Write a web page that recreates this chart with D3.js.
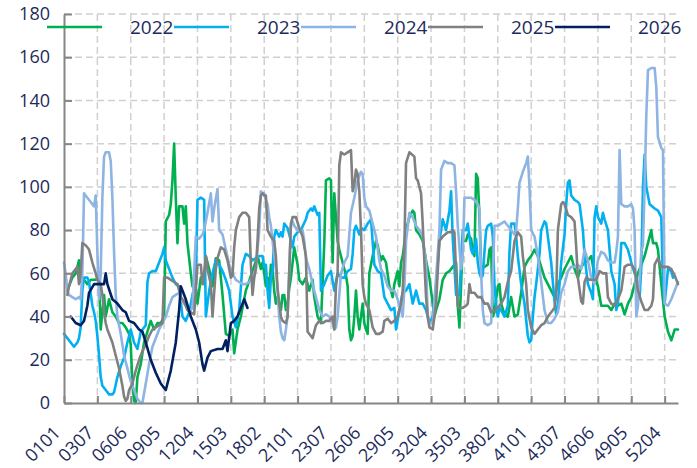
<!DOCTYPE html>
<html><head><meta charset="utf-8">
<script src="https://cdn.jsdelivr.net/npm/d3@7"></script>
<style>html,body{margin:0;padding:0;background:#fff}</style>
</head><body><svg id="c" width="697" height="468"></svg>
<script>
// Categories: week (01-53) + weekday (01-07) codes, 369 days shown
const weekNums = d3.range(1, 54);
const dayNums = d3.range(1, 8);
const categories = weekNums.flatMap(w => dayNums.map(d => String(w).padStart(2, "0") + String(d).padStart(2, "0"))).slice(0, 369);
const tickLabels = ["0101","0307","0606","0905","1204","1503","1802","2101","2307","2606","2905","3204","3503","3802","4101","4307","4606","4905","5204"];
const yTicks = [0,20,40,60,80,100,120,140,160,180];
const seriesNames = ["2022","2023","2024","2025","2026"];
const seriesColors = ["#00b050","#00b0f0","#8db4e2","#808080","#002060"];

// [day index into categories, value]
const s2022 = [[2,52],[5,58],[7,60],[9,66],[10,56],[12,57],[14,55],[16,57],[19,57],[21,58],[22,34],[24,50],[25,40],[27,48],[29,42],[31,40],[33,37],[35,37],[37,35],[39,32],[40,27],[41,9],[42,1],[43,0],[44,12],[46,18],[48,28],[50,33],[52,38],[54,34],[56,37],[58,37],[60,40],[61,84],[63,87],[64,92],[65,103],[66,120],[67,95],[68,74],[69,91],[71,91],[72,83],[73,91],[74,74],[76,60],[77,54],[79,53],[80,46],[82,58],[84,55],[85,68],[87,62],[89,54],[91,67],[93,66],[95,50],[97,32],[99,31],[101,34],[102,23],[104,34],[106,40],[109,52],[113,61],[116,68],[118,62],[119,65],[120,60],[121,54],[122,58],[123,52],[124,64],[125,62],[126,52],[127,46],[128,49],[130,43],[131,50],[132,50],[133,43],[134,46],[135,53],[136,58],[137,65],[138,72],[139,68],[140,64],[141,57],[143,55],[145,58],[147,52],[149,57],[150,49],[152,40],[154,37],[156,74],[157,103],[159,104],[160,103],[161,65],[162,97],[163,86],[164,75],[165,71],[167,65],[169,59],[170,54],[171,34],[172,29],[173,31],[174,40],[175,52],[176,40],[177,34],[179,46],[180,37],[181,34],[182,32],[183,60],[185,68],[187,75],[188,73],[189,69],[190,66],[191,68],[193,65],[195,54],[196,52],[197,49],[198,55],[200,61],[201,54],[202,65],[203,68],[205,80],[207,86],[209,89],[210,88],[211,80],[213,78],[215,75],[217,66],[219,58],[220,52],[221,46],[222,40],[223,43],[225,48],[227,57],[229,60],[231,61],[233,63],[235,65],[236,45],[237,35],[239,75],[241,75],[242,78],[244,76],[245,70],[246,68],[247,106],[248,104],[249,86],[250,63],[252,63],[254,64],[255,71],[256,72],[257,40],[258,42],[260,54],[261,55],[262,46],[264,41],[266,40],[268,49],[270,40],[272,41],[274,51],[276,63],[278,66],[280,68],[282,71],[284,68],[286,63],[288,58],[290,55],[292,52],[294,49],[296,55],[298,58],[300,62],[302,65],[304,68],[306,62],[308,58],[310,63],[312,65],[314,66],[316,68],[318,59],[320,54],[322,45],[324,45],[326,45],[328,43],[330,46],[332,45],[334,46],[336,41],[338,46],[340,49],[342,55],[344,60],[346,64],[348,68],[350,74],[352,80],[353,74],[355,74],[356,71],[358,55],[360,40],[362,33],[364,29],[366,34],[368,34]];
const s2023 = [[0,32],[2,30],[4,28],[6,26],[8,28],[9,30],[10,35],[11,52],[12,58],[14,58],[15,56],[17,45],[18,42],[19,38],[20,31],[21,22],[22,12],[23,8],[25,6],[27,4],[29,4],[30,5],[32,12],[34,17],[36,21],[38,28],[40,34],[42,28],[44,25],[46,33],[49,36],[50,56],[51,60],[53,61],[55,61],[57,65],[59,69],[60,72],[61,66],[63,62],[65,58],[67,55],[69,54],[71,40],[73,38],[75,42],[77,50],[79,56],[80,94],[82,95],[84,94],[85,40],[87,52],[89,60],[91,66],[93,64],[95,61],[97,57],[99,52],[101,40],[103,35],[105,43],[107,64],[109,69],[111,68],[113,66],[115,67],[117,68],[119,68],[120,63],[121,64],[122,52],[123,44],[124,58],[125,61],[126,77],[127,80],[129,77],[130,79],[131,77],[132,83],[134,81],[136,75],[137,72],[138,77],[140,79],[142,80],[145,85],[146,88],[148,90],[149,89],[150,91],[151,89],[152,87],[153,88],[154,52],[156,55],[158,59],[160,61],[162,52],[164,60],[166,58],[168,58],[170,61],[172,62],[173,69],[174,80],[175,82],[176,80],[177,78],[178,81],[180,80],[182,83],[184,85],[186,64],[188,61],[190,60],[192,49],[194,46],[196,43],[198,44],[199,34],[201,43],[203,51],[205,52],[207,55],[209,46],[211,52],[213,46],[215,46],[217,43],[219,37],[221,40],[223,54],[225,75],[227,85],[229,80],[231,89],[232,98],[233,76],[235,50],[237,50],[239,80],[241,80],[242,83],[243,77],[244,71],[245,69],[246,72],[247,76],[248,65],[249,60],[250,58],[251,59],[252,70],[253,80],[254,82],[256,83],[257,77],[258,55],[259,45],[260,40],[261,44],[262,43],[264,40],[266,45],[267,70],[268,83],[270,83],[271,77],[272,68],[274,55],[276,46],[278,31],[279,28],[280,29],[281,40],[282,49],[283,55],[285,69],[286,80],[288,84],[289,83],[290,77],[292,65],[293,56],[294,47],[295,41],[296,45],[298,65],[300,78],[301,92],[302,102],[303,103],[304,96],[306,94],[308,93],[309,92],[310,86],[311,80],[312,68],[314,55],[316,51],[317,48],[318,86],[319,91],[320,86],[322,83],[323,88],[324,85],[326,80],[327,71],[328,61],[330,55],[331,43],[332,46],[334,74],[336,74],[338,71],[340,65],[342,60],[343,58],[344,55],[345,49],[346,63],[347,100],[348,115],[349,100],[351,92],[354,90],[356,89],[358,86],[359,55],[360,46],[362,62],[364,61],[365,58]];
const s2024 = [[0,65],[1,60],[2,52],[3,50],[5,49],[7,48],[9,49],[10,48],[11,60],[12,97],[14,95],[16,93],[18,91],[19,96],[20,70],[21,48],[22,60],[23,95],[24,114],[25,116],[27,116],[28,112],[29,95],[30,70],[31,50],[32,40],[34,32],[36,22],[38,16],[40,10],[42,6],[44,2],[46,0],[47,0],[49,9],[51,18],[53,26],[55,30],[57,34],[59,37],[61,40],[63,45],[65,49],[67,50],[69,51],[71,47],[73,45],[75,42],[77,44],[79,77],[81,76],[83,78],[84,80],[86,88],[88,97],[89,84],[90,90],[92,99],[93,80],[95,78],[97,71],[99,64],[101,60],[103,57],[105,56],[107,55],[109,55],[111,56],[113,58],[115,62],[117,80],[118,98],[119,97],[120,97],[121,94],[122,92],[123,86],[124,82],[125,75],[126,68],[127,62],[128,52],[129,40],[130,33],[131,30],[132,29],[133,34],[134,40],[135,62],[136,82],[137,84],[138,82],[140,80],[142,79],[143,80],[144,75],[145,67],[147,62],[149,55],[151,49],[153,43],[155,40],[157,41],[159,40],[161,37],[162,34],[163,35],[164,40],[166,60],[168,65],[170,68],[172,88],[174,95],[176,103],[178,107],[179,106],[180,95],[181,91],[183,89],[185,83],[187,77],[189,66],[190,62],[192,59],[194,54],[196,52],[198,52],[200,48],[202,43],[203,40],[204,53],[205,75],[207,88],[209,86],[211,82],[213,80],[215,77],[217,65],[218,40],[219,37],[221,37],[223,58],[225,80],[226,108],[228,112],[230,111],[232,111],[234,110],[235,98],[236,82],[238,62],[239,68],[240,95],[242,95],[244,95],[246,94],[248,92],[249,90],[250,60],[251,43],[252,37],[254,36],[256,37],[257,60],[258,82],[260,82],[262,83],[264,84],[266,82],[268,80],[270,78],[271,80],[272,90],[273,102],[275,107],[277,111],[278,114],[279,100],[280,80],[282,77],[284,68],[286,56],[288,43],[290,37],[292,37],[294,39],[296,42],[298,51],[300,55],[302,61],[304,63],[306,63],[308,64],[310,62],[312,71],[314,66],[316,58],[318,55],[320,66],[322,70],[324,69],[326,66],[328,65],[330,65],[331,70],[332,77],[333,117],[334,92],[336,91],[338,91],[340,92],[341,90],[342,80],[343,40],[344,45],[346,70],[347,73],[348,100],[349,133],[350,154],[352,155],[354,155],[355,146],[356,123],[358,118],[359,117],[360,46],[362,45],[364,48],[366,52],[368,56]];
const s2025 = [[2,50],[3,54],[5,60],[7,62],[8,63],[9,55],[10,60],[11,74],[13,73],[15,71],[17,65],[19,60],[20,57],[22,55],[23,50],[24,42],[25,37],[26,34],[29,28],[31,22],[33,16],[35,8],[36,3],[37,1],[38,2],[39,6],[41,9],[43,15],[45,20],[47,24],[49,27],[51,31],[53,34],[55,35],[57,36],[59,37],[60,58],[62,58],[64,57],[66,56],[68,55],[70,49],[72,47],[74,43],[76,42],[78,41],[80,64],[82,64],[83,55],[84,60],[85,68],[86,62],[88,55],[89,40],[91,62],[92,67],[94,72],[96,71],[98,66],[100,58],[101,59],[102,72],[103,80],[105,86],[107,88],[109,88],[111,86],[112,64],[113,50],[114,58],[115,62],[116,75],[117,90],[118,96],[119,97],[120,96],[121,96],[122,80],[124,77],[126,75],[127,68],[128,53],[130,40],[131,38],[133,37],[134,40],[135,60],[136,83],[137,86],[139,86],[141,81],[143,77],[145,68],[146,33],[148,31],[149,30],[151,36],[153,38],[155,37],[157,38],[159,38],[161,40],[162,34],[163,54],[164,60],[165,110],[166,116],[168,115],[170,116],[172,117],[173,98],[174,101],[175,108],[176,106],[177,98],[178,80],[179,55],[180,49],[181,46],[183,43],[185,35],[187,32],[189,32],[191,33],[192,38],[194,39],[196,37],[198,38],[200,40],[201,43],[202,46],[203,52],[204,72],[205,111],[207,116],[210,114],[211,104],[212,103],[214,97],[215,83],[216,65],[217,49],[218,40],[219,35],[221,34],[223,46],[224,61],[225,75],[227,77],[230,79],[232,79],[233,80],[234,79],[235,60],[236,45],[237,44],[239,44],[241,45],[242,46],[243,55],[244,51],[246,51],[248,49],[250,49],[252,46],[254,46],[256,42],[258,43],[260,44],[262,46],[264,49],[266,56],[268,61],[270,75],[272,79],[274,77],[275,68],[277,55],[278,43],[280,35],[282,32],[284,34],[286,36],[288,37],[290,40],[292,42],[294,44],[295,50],[296,80],[298,92],[299,93],[300,92],[302,87],[304,86],[306,84],[307,72],[308,58],[310,47],[311,46],[312,56],[313,58],[315,57],[317,57],[319,57],[321,61],[323,60],[325,60],[326,49],[328,46],[330,45],[332,48],[334,52],[336,63],[338,64],[340,64],[342,62],[343,57],[344,52],[346,47],[348,43],[350,43],[352,45],[353,48],[354,64],[356,67],[358,63],[360,63],[362,63],[364,62],[366,59],[368,55]];
const s2026 = [[4,40],[7,37],[10,36],[12,38],[14,45],[15,51],[18,55],[21,55],[24,55],[25,60],[26,55],[29,48],[32,46],[35,43],[37,42],[39,38],[42,37],[45,34],[47,33],[49,28],[52,20],[55,14],[58,9],[60,7],[61,6],[64,15],[67,28],[69,43],[70,54],[73,48],[76,40],[79,34],[81,28],[83,18],[84,15],[86,21],[88,24],[92,25],[95,25],[97,29],[98,24],[100,37],[102,38],[104,40],[106,44],[108,48],[110,44]];
const seriesData = [s2022, s2023, s2024, s2025, s2026];

const FONT = "'Open Sans', 'Noto Sans', sans-serif";
const TEXT = "#1d2b5c";
const svg = d3.select("#c");
svg.append("rect").attr("width", 697).attr("height", 468).attr("fill", "#fff");

const x = d3.scalePoint().domain(categories).range([64, 678]);
const y = d3.scaleLinear().domain([0, 180]).range([403, 14]);

// gridlines
const grid = svg.append("g").attr("stroke", "#d0d0d0").attr("stroke-width", 1.5).attr("stroke-dasharray", "7,4");
grid.selectAll("line.h").data(yTicks.slice(1)).join("line")
  .attr("x1", 64).attr("x2", 678).attr("y1", d => y(d)).attr("y2", d => y(d));
grid.selectAll("line.v").data(tickLabels.slice(1)).join("line")
  .attr("x1", d => x(d)).attr("x2", d => x(d)).attr("y1", 14).attr("y2", 403);

// series
const line = d3.line().x(d => x(categories[d[0]])).y(d => y(d[1]));
svg.append("g").selectAll("path").data(seriesData).join("path")
  .attr("d", line).attr("fill", "none")
  .attr("stroke", (d, i) => seriesColors[i]).attr("stroke-width", 2.6)
  .attr("stroke-linejoin", "round").attr("stroke-linecap", "round");

// axes
const yAxis = svg.append("g").attr("transform", "translate(64,0)")
  .call(d3.axisLeft(y).tickValues(yTicks).tickSizeInner(-8).tickSizeOuter(0).tickPadding(14));
const xAxis = svg.append("g").attr("transform", "translate(0,403)")
  .call(d3.axisBottom(x).tickValues(tickLabels).tickSizeInner(-7).tickSizeOuter(0));
[yAxis, xAxis].forEach(a => {
  a.select(".domain").attr("stroke", "#868686").attr("stroke-width", 2);
  a.selectAll(".tick line").attr("stroke", "#868686").attr("stroke-width", 2);
  a.selectAll("text").attr("fill", TEXT).style("font-family", FONT).style("font-size", "18px");
});
xAxis.selectAll(".tick text").attr("y", null).attr("dy", null).attr("x", null)
  .attr("text-anchor", "end").attr("transform", "translate(-3,31) rotate(-45)");

// legend
const leg = svg.append("g").selectAll("g").data(seriesNames).join("g")
  .attr("transform", (d, i) => `translate(${47 + i * 127},27)`);
leg.append("line").attr("x1", 0).attr("x2", 55).attr("y1", 0).attr("y2", 0)
  .attr("stroke", (d, i) => seriesColors[i]).attr("stroke-width", 2.6);
leg.append("text").attr("x", 83).attr("y", 7).text(d => d)
  .attr("fill", TEXT).style("font-family", FONT).style("font-size", "19px");
</script></body></html>
